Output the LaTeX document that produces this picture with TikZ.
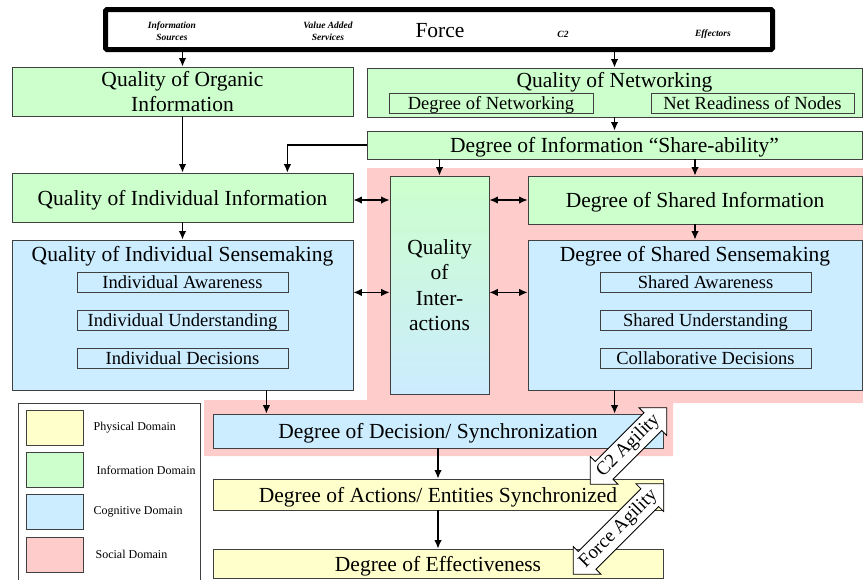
\documentclass[tikz,border=0pt]{standalone}
\usepackage{fontspec}
\setmainfont{Liberation Serif}
\usetikzlibrary{%
  arrows.meta,%
  calc,%
  positioning,%
  shapes.arrows%
}
\definecolor{infogreen}{HTML}{CCFFCC}
\definecolor{cogblue}{HTML}{CCECFF}
\definecolor{physyellow}{HTML}{FFFFCC}
\definecolor{socialpink}{HTML}{FFCCCC}
\newcommand{\bigfont}{\fontsize{21.5}{25.3}\selectfont}
\newcommand{\subfont}{\fontsize{18.5}{20}\selectfont}
\newcommand{\legfont}{\fontsize{12}{13}\selectfont}
\newcommand{\tagfont}{\fontsize{9.5}{12}\selectfont\bfseries\itshape}
\newcommand{\agilfont}{\fontsize{19}{20}\selectfont}
\tikzset{
  box/.style={draw=black!75,line width=0.8pt,inner sep=0pt,align=center,font=\bigfont,
    text depth=0pt},
  infobox/.style={box,fill=infogreen},
  cogbox/.style={box,fill=cogblue},
  physbox/.style={box,fill=physyellow},
  subbox/.style={draw=black!75,line width=0.8pt,inner sep=0pt,font=\subfont,
    minimum height=20pt,text depth=0pt},
  tagtext/.style={font=\tagfont,align=center,inner sep=0pt},
  swatch/.style={draw=black!75,line width=0.8pt,minimum width=57pt,minimum height=35pt},
  legtext/.style={font=\legfont,inner sep=0pt},
  link/.style={->,line width=1.3pt},
  agility/.style={double arrow,draw,fill=white,line width=0.8pt,rotate=45,
    font=\agilfont,inner xsep=0pt,inner ysep=3.5pt,double arrow head extend=7pt}
}

\begin{document}
\begin{tikzpicture}[x=1pt,y=-1pt,>={Latex[length=8.5pt,width=7.5pt]}]
  \useasboundingbox (0,0) rectangle (863,579);
  % social domain
  \fill[socialpink] (367,168) -- (863,168) -- (863,403) -- (673,403) -- (673,456)
    -- (204,456) -- (204,400) -- (367,400) -- cycle;
  % force
  \node[draw,line width=5pt,fill=white,rounded corners=1.5pt,minimum width=667pt,
    minimum height=40pt] (force) at (439,29.5) {};
  \node[tagtext] (srctag) at (172,31) {Information\\Sources};
  \node[tagtext] (vastag) at (328,31) {Value Added\\Services};
  \node[font=\bigfont,inner sep=0pt] (forcetag) at (440,31) {Force};
  \node[tagtext] (c2tag) at (563,34) {C2};
  \node[tagtext] (efftag) at (713,34) {Effectors};
  % information
  \node[infobox,minimum width=341pt,minimum height=49pt] (organic) at (182.5,91.5)
    {Quality of Organic\\Information};
  \node[infobox,minimum width=495pt,minimum height=49pt] (qnet) at (614.5,92.5) {};
  \node[font=\bigfont,inner sep=0pt] (qnettitle) at (614.5,82) {Quality of Networking};
  \node[subbox,minimum width=204pt] (degnet) at (491,103) {Degree of Networking};
  \node[subbox,minimum width=203pt] (netready) at (752.5,103) {Net Readiness of Nodes};
  \node[infobox,minimum width=495pt,minimum height=28pt] (share) at (614.5,145)
    {Degree of Information “Share-ability”};
  \node[infobox,minimum width=341pt,minimum height=49pt] (indinfo) at (182.5,197.5)
    {Quality of Individual Information};
  \node[infobox,minimum width=334pt,minimum height=48pt] (sharedinfo) at (695,200)
    {Degree of Shared Information};
  \node[box,top color=infogreen,bottom color=cogblue,minimum width=99pt,
    minimum height=218pt] (interact) at (439.5,285) {Quality\\of\\Inter-\\actions};
  % cognitive
  \node[cogbox,minimum width=341pt,minimum height=150pt] (indsense) at (182.5,315) {};
  \node[font=\bigfont,inner sep=0pt] (indsensetitle) at (182.5,256)
    {Quality of Individual Sensemaking};
  \node[subbox,minimum width=211pt] (indaware) at (182.5,282) {Individual Awareness};
  \node[subbox,minimum width=211pt] (indunder) at (182.5,320.5) {Individual Understanding};
  \node[subbox,minimum width=211pt] (inddecide) at (182.5,358.5) {Individual Decisions};
  \node[cogbox,minimum width=334pt,minimum height=150pt] (sharedsense) at (695,315) {};
  \node[font=\bigfont,inner sep=0pt] (sharedsensetitle) at (695,256)
    {Degree of Shared Sensemaking};
  \node[subbox,minimum width=211pt] (sharedaware) at (705.5,282) {Shared Awareness};
  \node[subbox,minimum width=211pt] (sharedunder) at (705.5,320.5) {Shared Understanding};
  \node[subbox,minimum width=211pt] (collabdecide) at (705.5,358.5) {Collaborative Decisions};
  \node[cogbox,minimum width=450pt,minimum height=34pt] (decision) at (438,431)
    {Degree of Decision/ Synchronization};
  % physical
  \node[physbox,minimum width=450pt,minimum height=31pt] (actions) at (438,494.5)
    {Degree of Actions/ Entities Synchronized};
  \node[physbox,minimum width=450pt,minimum height=29pt] (effect) at (438,563.5)
    {Degree of Effectiveness};
  % links
  \draw[link] (organic.north |- force.south) -- (organic.north);
  \draw[link] (qnet.north |- force.south) -- (qnet.north);
  \draw[link] (qnet.south) -- (share.north);
  \draw[link] (share.west) -| ($(indinfo.north east)+(-66,0)$);
  \draw[link] (interact.north |- share.south) -- (interact.north);
  \draw[link] (sharedinfo.north |- share.south) -- (sharedinfo.north);
  \draw[link] (organic.south) -- (indinfo.north);
  \draw[link] (indinfo.south) -- (indsense.north);
  \draw[link] (sharedinfo.south) -- (sharedsense.north);
  \draw[link,<->] (indinfo.east |- sharedinfo.west) -- (interact.west |- sharedinfo.west);
  \draw[link,<->] (interact.east |- sharedinfo.west) -- (sharedinfo.west);
  \draw[link,<->] (indsense.east |- indaware.south) -- (interact.west |- indaware.south);
  \draw[link,<->] (interact.east |- indaware.south) -- (sharedsense.west |- indaware.south);
  \coordinate (indout) at ($(indsense.south east)+(-87,0)$);
  \coordinate (sharedout) at ($(sharedsense.south west)+(87,0)$);
  \draw[link] (indout) -- (indout |- decision.north);
  \draw[link] (sharedout) -- (sharedout |- decision.north);
  \draw[link] (decision.south) -- (actions.north);
  \draw[link] (actions.south) -- (effect.north);
  % agility
  \node[agility,minimum height=108pt] (c2agil) at (628.5,446) {C2 Agility};
  \node[agility,minimum height=126pt] (forceagil) at (618.5,529) {Force Agility};
  % legend
  \node[draw=black!75,line width=0.8pt,minimum width=182pt,minimum height=178pt]
    (legend) at (109,492) {};
  \node[swatch,fill=physyellow] (physkey) at (54.5,427.5) {};
  \node[swatch,fill=infogreen] (infokey) at (54.5,470) {};
  \node[swatch,fill=cogblue] (cogkey) at (54.5,511.5) {};
  \node[swatch,fill=socialpink] (socialkey) at (54.5,554.5) {};
  \node[legtext,right=10pt of physkey] (physlabel) {Physical Domain};
  \node[legtext,right=13pt of infokey] (infolabel) {Information Domain};
  \node[legtext,right=10pt of cogkey] (coglabel) {Cognitive Domain};
  \node[legtext,right=12pt of socialkey] (sociallabel) {Social Domain};
\end{tikzpicture}
\end{document}
